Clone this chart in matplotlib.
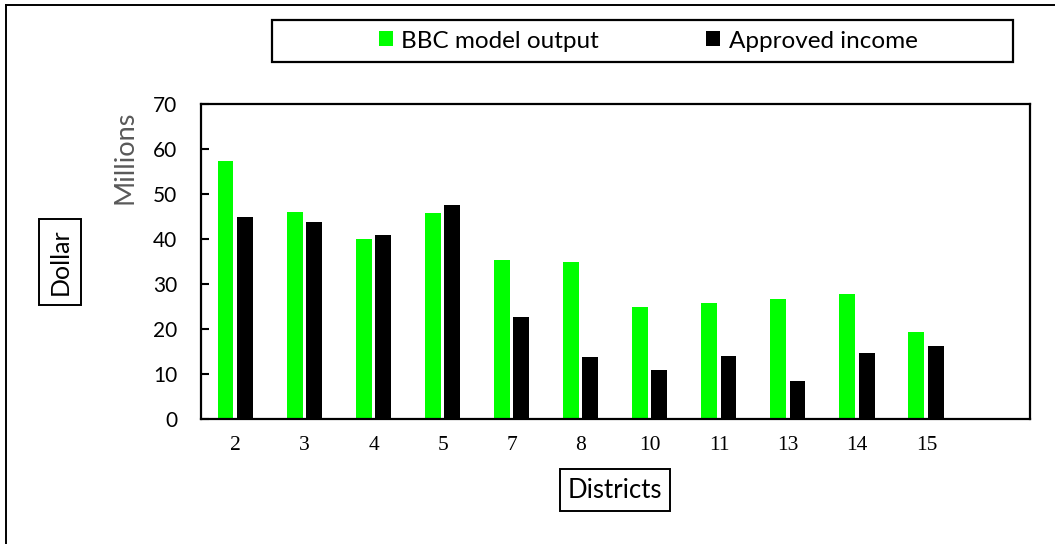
import numpy as np
import matplotlib
matplotlib.use('Agg')
import matplotlib.pyplot as plt
from matplotlib.patches import Rectangle
from matplotlib.lines import Line2D

# data
districts = ['2', '3', '4', '5', '7', '8', '10', '11', '13', '14', '15']
bbc_output = [57.3, 45.9, 39.9, 45.8, 35.3, 34.9, 24.9, 25.8, 26.6, 27.8, 19.3]
approved = [45.0, 43.8, 40.9, 47.5, 22.7, 13.7, 10.9, 13.9, 8.5, 14.6, 16.2]
yticks = [0, 10, 20, 30, 40, 50, 60, 70]

GREEN = '#00FF00'
SANS = ['Lato', 'DejaVu Sans']
SERIF = ['Liberation Serif', 'DejaVu Serif']
W, H = 1055, 544

fig = plt.figure(figsize=(W / 100, H / 100), dpi=100)
ax = fig.add_axes([201 / W, 1 - 419 / H, 829 / W, 315 / H])

x = np.arange(len(districts))
w = 0.23
ax.bar(x - 0.145, bbc_output, width=w, color=GREEN, label='BBC model output')
ax.bar(x + 0.135, approved, width=w, color='black', label='Approved income')

# 12 category slots, the last one empty
ax.set_xlim(-0.5, 11.5)
ax.set_ylim(0, 70)
ax.set_yticks(yticks)
ax.set_yticklabels([str(v) for v in yticks], fontsize=15, family=SANS)
ax.set_xticks(x)
ax.set_xticklabels(districts, fontsize=15.5, family=SERIF)
ax.tick_params(axis='x', length=0, pad=12)
ax.tick_params(axis='y', length=6, width=1.5, direction='in', pad=17)
for side in ax.spines:
    ax.spines[side].set_linewidth(1.6)

# axis titles
fig.text(125 / W, 1 - 157 / H, 'Millions', rotation=90, ha='center', va='center',
         fontsize=19.5, color='#595959', family=SANS)
fig.text(60 / W, 1 - 262 / H, 'Dollar', rotation=90, ha='center', va='center',
         fontsize=18, family=SANS,
         bbox=dict(boxstyle='square,pad=0.38', fc='white', ec='black', lw=1.4))
fig.text(615 / W, 1 - 490 / H, 'Districts', ha='center', va='center',
         fontsize=18.5, family=SANS,
         bbox=dict(boxstyle='square,pad=0.32', fc='white', ec='black', lw=1.4))

# legend inside a wide box at the top
fig.patches.append(Rectangle((272 / W, 1 - 62 / H), 741 / W, 42 / H, transform=fig.transFigure,
                             fill=False, ec='black', lw=1.6))
leg = fig.legend(loc='center', bbox_to_anchor=(648 / W, 1 - 41 / H),
                 ncol=2, frameon=False, prop={'family': SANS, 'size': 17.5},
                 handlelength=0.58, handleheight=0.58, handletextpad=0.35, columnspacing=4.4,
                 borderaxespad=0, borderpad=0)

# outer border: top and left lines only
fig.add_artist(Line2D([6 / W, 1], [1 - 5 / H, 1 - 5 / H], transform=fig.transFigure, color='black', lw=1.4))
fig.add_artist(Line2D([6 / W, 6 / W], [0, 1 - 5 / H], transform=fig.transFigure, color='black', lw=1.4))

fig.savefig('out.png', dpi=100)
